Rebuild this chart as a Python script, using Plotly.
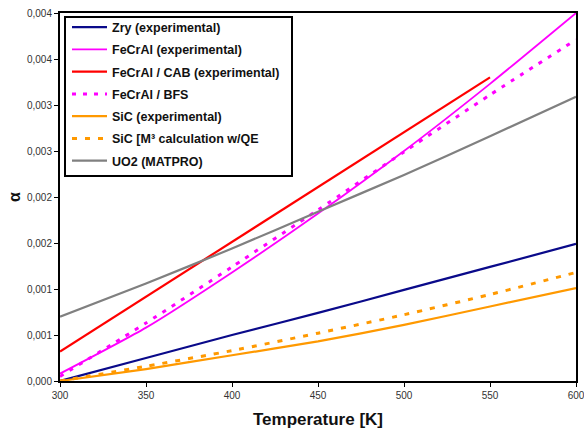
import plotly.graph_objects as go

temperature = [300, 350, 400, 450, 500, 550, 600]

zry_exp = [0.0, 0.00025, 0.00050, 0.00074, 0.00099, 0.00124, 0.00149]
fecral_exp = [0.00008, 0.00058, 0.00118, 0.00182, 0.00250, 0.00323, 0.00400]
cab_temperature = [300, 550]
fecral_cab = [0.00032, 0.00330]
fecral_bfs = [0.00005, 0.00063, 0.00124, 0.00186, 0.00249, 0.00311, 0.00371]
sic_exp = [0.0, 0.00013, 0.00028, 0.00043, 0.00061, 0.00081, 0.00101]
sic_m3 = [0.0, 0.00016, 0.00033, 0.00052, 0.00072, 0.00094, 0.00118]
uo2_matpro = [0.00070, 0.00106, 0.00144, 0.00184, 0.00224, 0.00266, 0.00309]

y_tickvals = [0, 0.0005, 0.001, 0.0015, 0.002, 0.0025, 0.003, 0.0035, 0.004]
y_ticktext = ["0,000", "0,001", "0,001", "0,002", "0,002", "0,003", "0,003", "0,004", "0,004"]
x_tickvals = [300, 350, 400, 450, 500, 550, 600]

series = [
    ("Zry (experimental)", temperature, zry_exp, "#0a0a8a", "solid", 2.2),
    ("FeCrAl (experimental)", temperature, fecral_exp, "#ff00ff", "solid", 1.8),
    ("FeCrAl / CAB (experimental)", cab_temperature, fecral_cab, "#ff0000", "solid", 2.2),
    ("FeCrAl / BFS", temperature, fecral_bfs, "#ff00ff", "4px,7px", 3),
    ("SiC (experimental)", temperature, sic_exp, "#ff9900", "solid", 2.2),
    ("SiC [M³ calculation w/QE", temperature, sic_m3, "#ff9900", "5px,8px", 3),
    ("UO2 (MATPRO)", temperature, uo2_matpro, "#808080", "solid", 2.2),
]

fig = go.Figure()
for i, (name, xs, ys, color, dash, w) in enumerate(series):
    fig.add_trace(go.Scatter(
        x=xs, y=ys, mode="lines", name=name, legendgroup=f"g{i}",
        line=dict(color=color, width=w, dash=dash, shape="spline", smoothing=0.6),
    ))

# legend frame (drawn separately so the entries can be placed precisely)
fig.add_shape(
    type="rect", xref="paper", yref="paper",
    x0=(65 - 60) / 516, x1=(292 - 60) / 516,
    y0=(381 - 176) / 368, y1=(381 - 17) / 368,
    line=dict(color="black", width=2), fillcolor="white", layer="above",
)

fig.update_layout(
    width=584, height=430,
    margin=dict(l=60, r=8, t=13, b=49),
    plot_bgcolor="white", paper_bgcolor="white",
    font=dict(family="Liberation Sans, Arial, sans-serif", color="#222"),
    legend=dict(
        x=(67 - 60) / 516, y=(381 - 12.5) / 368, xanchor="left", yanchor="top",
        borderwidth=0, bgcolor="rgba(0,0,0,0)",
        font=dict(size=12.5, color="#111", weight="bold"),
        itemwidth=35, tracegroupgap=3,
    ),
    xaxis=dict(
        range=[300, 600], tickvals=x_tickvals, ticks="outside", ticklen=4,
        tickcolor="black", showline=True, linecolor="black", linewidth=2,
        mirror=True, showgrid=False, zeroline=False, automargin=False,
        ticklabeloverflow="allow",
        tickfont=dict(size=10, color="#333"),
        title=dict(text="Temperature [K]", font=dict(size=17, color="#111", weight="bold"), standoff=13),
    ),
    yaxis=dict(
        range=[0, 0.004], tickvals=y_tickvals, ticktext=y_ticktext,
        ticks="outside", ticklen=4, tickcolor="black",
        showline=True, linecolor="black", linewidth=2, mirror=True,
        showgrid=False, zeroline=False, automargin=False,
        ticklabeloverflow="allow",
        tickfont=dict(size=10, color="#333"),
        title=dict(text="α", font=dict(size=16, color="#111", weight="bold"), standoff=2),
    ),
)

fig.write_html("out.html")
